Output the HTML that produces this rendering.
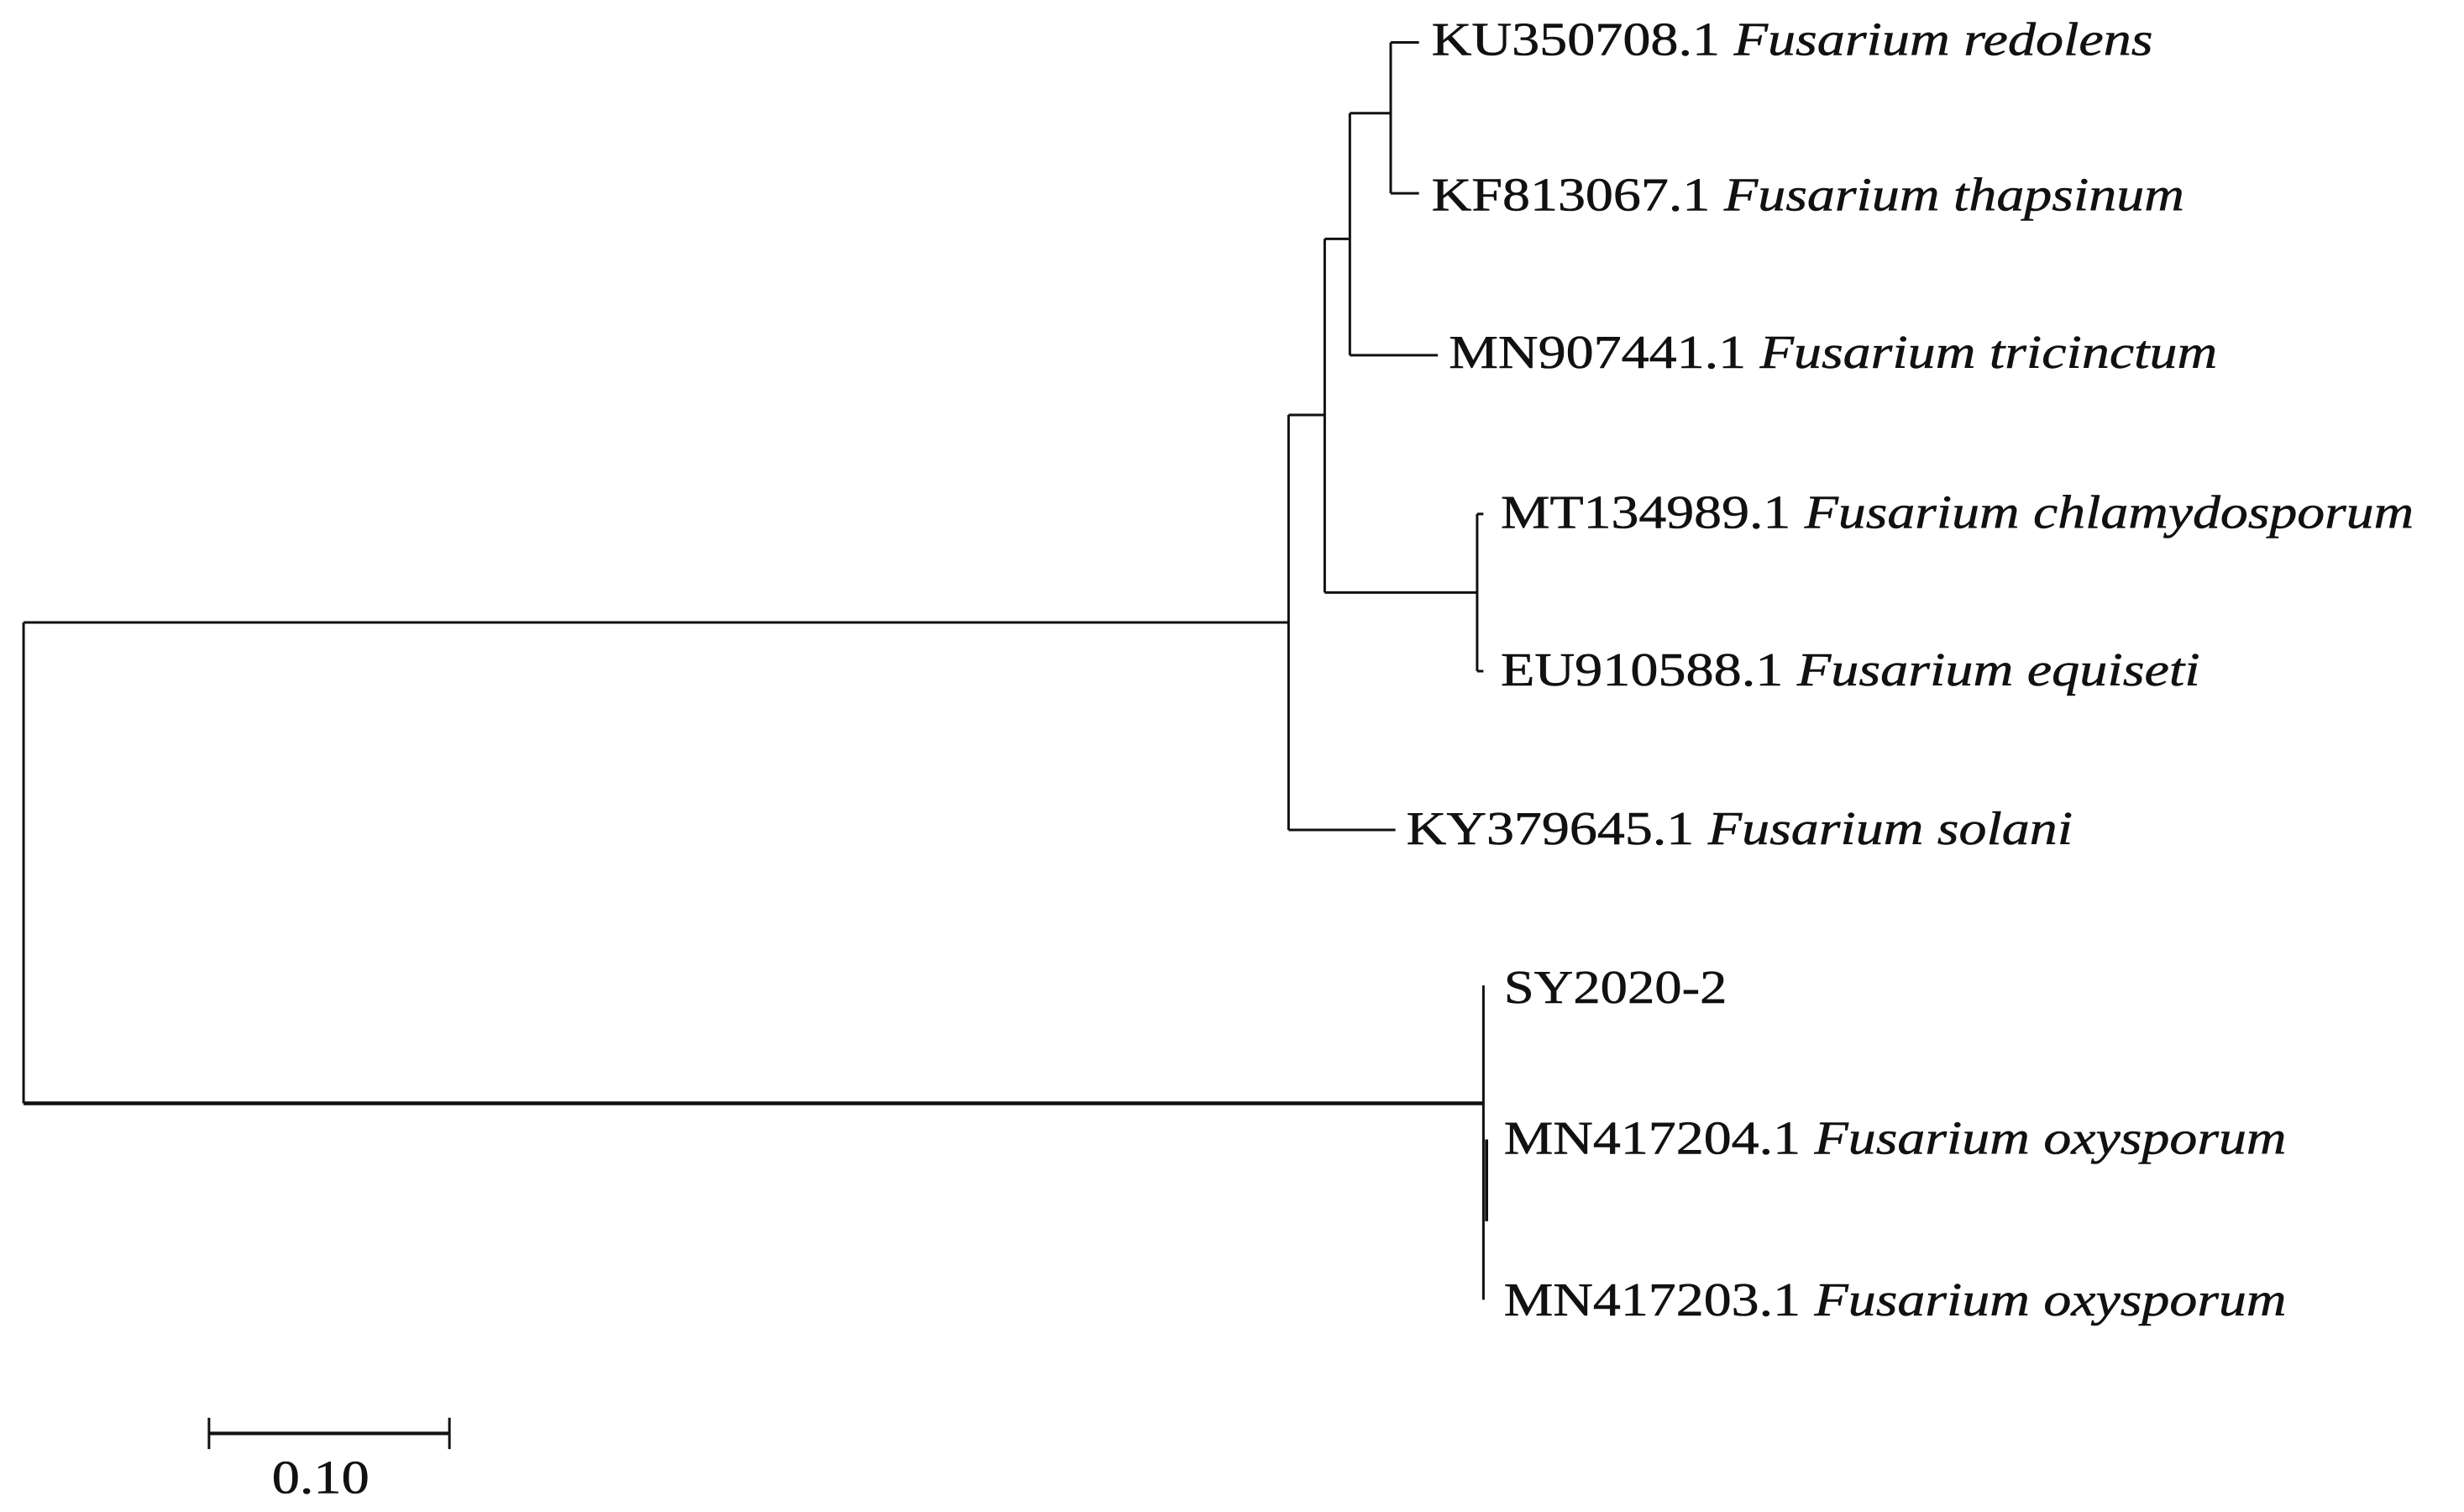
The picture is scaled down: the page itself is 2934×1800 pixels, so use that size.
<!DOCTYPE html>
<html><head><meta charset="utf-8"><style>
html,body{margin:0;padding:0;background:#fff;}
svg{display:block;}
text{font-family:"Liberation Serif",serif;font-size:30px;fill:#111;stroke:#111;stroke-width:0.3px;}
.i{font-style:italic;}
</style></head><body>
<svg width="2934" height="1800" viewBox="0 0 1568 962" preserveAspectRatio="none" xmlns="http://www.w3.org/2000/svg">
<g stroke="#111" stroke-width="1.6" fill="none">
<path d="M15 396 V702"/>
<path d="M15 396 H820"/>
<path d="M15 702 H944" stroke-width="2.4"/>
<path d="M820 264 V528 M820 528 H888 M820 264 H843"/>
<path d="M843 152 V377 M843 377 H940 M940 327 V427 M940 327 H944 M940 427 H944"/>
<path d="M843 152 H859 M859 72 V226 M859 226 H915 M859 72 H885"/>
<path d="M885 27 V123 M885 27 H903 M885 123 H903"/>
<path d="M944 627 V827"/>
<path d="M946 725 V777" stroke-width="2"/>
<path d="M133 912 H286" stroke-width="2.2"/>
<path d="M133 902 V922 M286 902 V922"/>
</g>
<text x="911" y="35" textLength="459" lengthAdjust="spacingAndGlyphs">KU350708.1 <tspan class="i">Fusarium redolens</tspan></text>
<text x="911" y="134" textLength="479" lengthAdjust="spacingAndGlyphs">KF813067.1 <tspan class="i">Fusarium thapsinum</tspan></text>
<text x="922" y="234" textLength="489" lengthAdjust="spacingAndGlyphs">MN907441.1 <tspan class="i">Fusarium tricinctum</tspan></text>
<text x="955" y="336" textLength="581" lengthAdjust="spacingAndGlyphs">MT134989.1 <tspan class="i">Fusarium chlamydosporum</tspan></text>
<text x="955" y="436" textLength="445" lengthAdjust="spacingAndGlyphs">EU910588.1 <tspan class="i">Fusarium equiseti</tspan></text>
<text x="895" y="537" textLength="424" lengthAdjust="spacingAndGlyphs">KY379645.1 <tspan class="i">Fusarium solani</tspan></text>
<text x="957" y="638" textLength="142" lengthAdjust="spacingAndGlyphs">SY2020-2</text>
<text x="957" y="734" textLength="498" lengthAdjust="spacingAndGlyphs">MN417204.1 <tspan class="i">Fusarium oxysporum</tspan></text>
<text x="957" y="837" textLength="498" lengthAdjust="spacingAndGlyphs">MN417203.1 <tspan class="i">Fusarium oxysporum</tspan></text>
<text x="173" y="950" textLength="62" lengthAdjust="spacingAndGlyphs">0.10</text>
</svg>
</body></html>
